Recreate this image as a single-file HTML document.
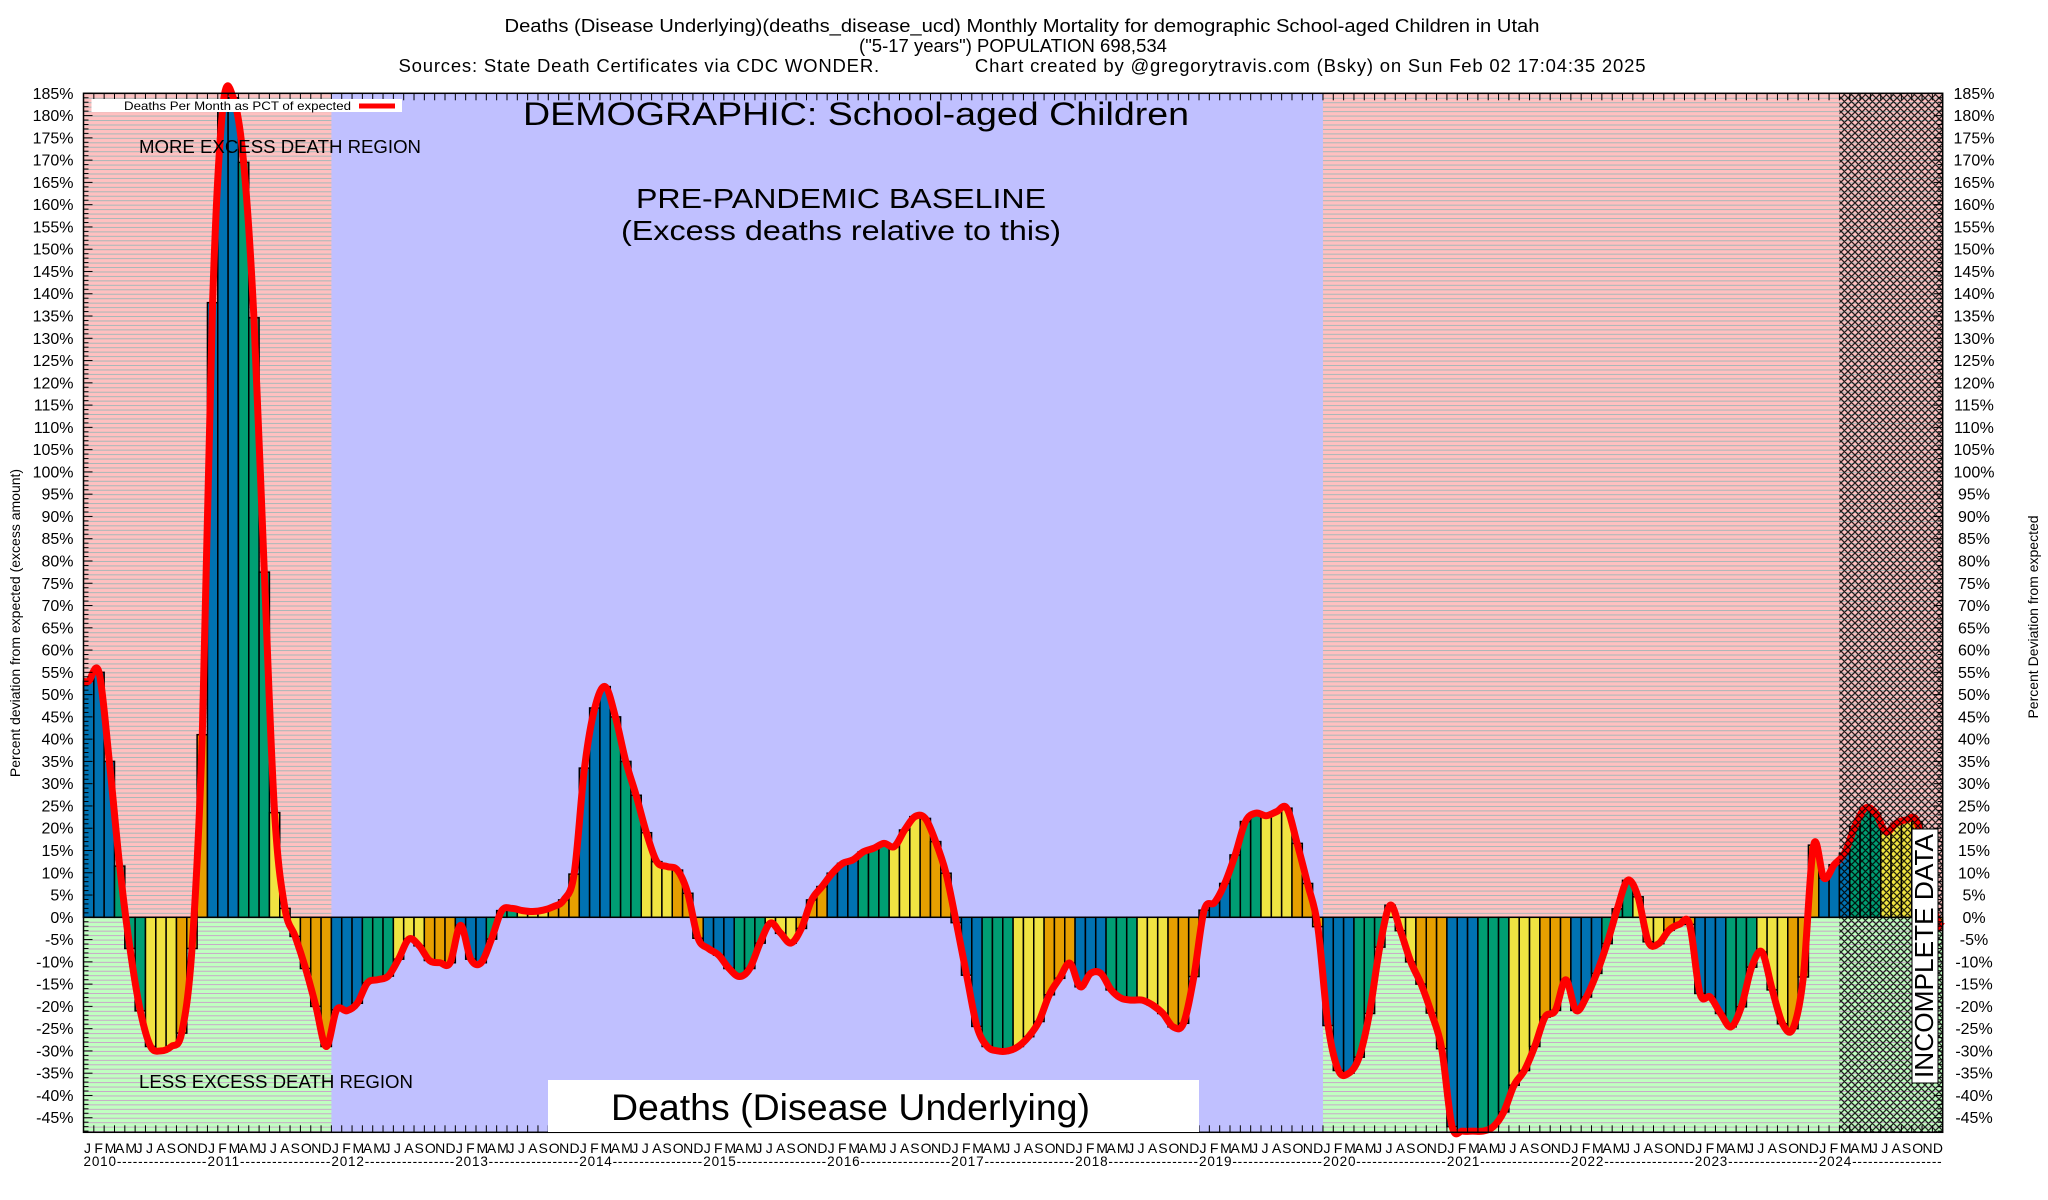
<!DOCTYPE html>
<html><head><meta charset="utf-8"><style>
html,body{margin:0;padding:0;background:#fff;width:2048px;height:1200px;overflow:hidden}
svg{display:block;font-family:"Liberation Sans",Arial,sans-serif}
</style></head><body>
<svg id="s" width="2048" height="1200" xmlns="http://www.w3.org/2000/svg">
<defs>
<pattern id="pg" patternUnits="userSpaceOnUse" x="0" y="917.3" width="10" height="4.454"><rect width="10" height="4.454" fill="#ffc0c0"/><rect y="0" width="10" height="1" fill="#a8b8b8"/></pattern>
<pattern id="gg" patternUnits="userSpaceOnUse" x="0" y="917.3" width="10" height="4.454"><rect width="10" height="4.454" fill="#c0ffc0"/><rect y="0" width="10" height="1" fill="#c8a8c8"/></pattern>
<pattern id="hatch" patternUnits="userSpaceOnUse" width="7" height="7"><path d="M0,0L7,7M7,0L0,7M-1,6L1,8M6,-1L8,1M-1,1L1,-1M6,8L8,6" stroke="#000" stroke-width="1.3"/></pattern>
</defs>
<g id="bg"></g><g id="bars"></g><g id="ln"></g><g id="hat"></g><g id="ax"></g>
<g fill="#000" text-anchor="middle">
<text x="1022" y="32" font-size="18.5" textLength="1035" lengthAdjust="spacingAndGlyphs">Deaths (Disease Underlying)(deaths_disease_ucd) Monthly Mortality for demographic School-aged Children in Utah</text>
<text x="1013" y="52" font-size="18.5">("5-17 years") POPULATION 698,534</text>
<text x="1022" y="72" font-size="18.5" textLength="1247" lengthAdjust="spacing" xml:space="preserve">Sources: State Death Certificates via CDC WONDER.                Chart created by @gregorytravis.com (Bsky) on Sun Feb 02 17:04:35 2025</text>
</g>
<rect x="91.5" y="99" width="310.5" height="13" fill="#fff"/>
<text x="124" y="110" font-size="12" textLength="227" lengthAdjust="spacingAndGlyphs">Deaths Per Month as PCT of expected</text>
<rect x="359" y="103.5" width="36" height="5" fill="#f00"/>
<text x="139" y="153" font-size="18" textLength="282" lengthAdjust="spacingAndGlyphs">MORE EXCESS DEATH REGION</text>
<text x="139" y="1088" font-size="18" textLength="274" lengthAdjust="spacingAndGlyphs">LESS EXCESS DEATH REGION</text>
<text x="523" y="125" font-size="32" textLength="666" lengthAdjust="spacingAndGlyphs">DEMOGRAPHIC: School-aged Children</text>
<text x="636" y="208" font-size="28" textLength="410" lengthAdjust="spacingAndGlyphs">PRE-PANDEMIC BASELINE</text>
<text x="621" y="240" font-size="28" textLength="440" lengthAdjust="spacingAndGlyphs">(Excess deaths relative to this)</text>
<rect x="548" y="1080" width="651" height="52" fill="#fff"/>
<text x="611" y="1120" font-size="37" textLength="479" lengthAdjust="spacingAndGlyphs">Deaths (Disease Underlying)</text>
<rect x="1912" y="829" width="26" height="254" fill="#fff" stroke="#000" stroke-width="1"/>
<text transform="translate(1933,1078) rotate(-90)" font-size="26" textLength="244" lengthAdjust="spacingAndGlyphs">INCOMPLETE DATA</text>
<text transform="translate(20,623) rotate(-90)" font-size="14" text-anchor="middle">Percent deviation from expected (excess amount)</text>
<text transform="translate(2038,617) rotate(-90)" font-size="14" text-anchor="middle">Percent Deviation from expected</text>
</svg>
<script>
const NS="http://www.w3.org/2000/svg";
function el(p,t,a,txt){const e=document.createElementNS(NS,t);for(const k in a)e.setAttribute(k,a[k]);if(txt!==undefined)e.textContent=txt;document.getElementById(p).appendChild(e);return e;}
const L=83.5,R=1942.7,T=93.3,B=1132.3,Z=917.3,K=4.454,W=(R-L)/180;
const Y=v=>Z-v*K, X=i=>L+i*W;
const d=[53,55,35,11.5,-7,-21,-29,-30,-29,-26,-7,41,
138,182,184,169.5,134.6,77.5,23.5,2,-4.3,-11.5,-20,-29,
-20.8,-21,-19.3,-14.7,-14,-13.2,-9.4,-4.9,-6.4,-9.7,-10.2,-10.2,
-1.8,-9.4,-10.2,-4.9,1.5,2,1.5,1.3,1.6,2.4,3.9,9.7,
33.5,47,51.8,45,35,27.4,19,12.5,11.4,10.6,5.4,-4.7,
-7,-8.5,-11.5,-13.3,-11.5,-5.8,-1.3,-3.6,-5.8,-2.5,3.9,6.9,
9.9,12.1,12.9,14.7,15.5,16.6,15.9,19.6,22.6,22.2,17,9.9,
-1.2,-13,-24.5,-29,-30,-30,-29,-26.8,-23.4,-17.4,-13.7,-10.3,
-15.6,-12.6,-12.6,-16.3,-18.2,-18.6,-18.6,-19.7,-21.6,-24.6,-23.8,-13.3,
1.6,3.3,7.6,14,21.5,23.4,22.8,23.7,24.5,16.6,7.6,-2.1,
-24.3,-34.4,-35,-31.4,-21.6,-6.7,2.7,-3,-10,-15,-21.5,-29.5,
-47,-48,-48,-48,-47,-43.7,-37.7,-34.4,-29,-22.4,-20.9,-14,
-20.9,-17.9,-12.6,-5.9,1.9,8.3,4.6,-5.5,-5.9,-2.9,-1.6,-1.6,
-17.1,-17.9,-21.6,-24.6,-20.1,-11.2,-7.8,-16.3,-23.9,-25,-13.4,16.2,
8.8,11.8,14.4,20.4,24.5,23.4,19.2,21.1,21.9,21.5,10,-1];
// backgrounds
el("bg","rect",{x:L,y:T,width:R-L,height:B-T,fill:"#c0c0ff"});
[[0,24],[120,180]].forEach(([a,b])=>{
 el("bg","rect",{x:X(a),y:T,width:X(b)-X(a),height:Z-T,fill:"url(#pg)"});
 el("bg","rect",{x:X(a),y:Z,width:X(b)-X(a),height:B-Z,fill:"url(#gg)"});
});
// bars
const cols=["#0072b2","#009e73","#f0e442","#e69f00"];
d.forEach((v,i)=>{const m=i%12;const y0=Math.min(Y(v),Z),h=Math.abs(Y(v)-Z);
 el("bars","rect",{x:X(i),y:y0,width:W,height:h,fill:cols[Math.floor(m/3)],stroke:"#000","stroke-width":1.5});});
el("bars","line",{x1:L,x2:R,y1:Z,y2:Z,stroke:"#000","stroke-width":1.2});
// line catmull-rom
const P=d.map((v,i)=>[X(i)+W/2,Y(v)]);P.unshift([L,Y(53)]);P.push([R,Y(-2)]);
let s="M"+P[0][0]+","+P[0][1];
for(let i=0;i<P.length-1;i++){const p0=P[Math.max(0,i-1)],p1=P[i],p2=P[i+1],p3=P[Math.min(P.length-1,i+2)];
 const c1=[p1[0]+(p2[0]-p0[0])/6,p1[1]+(p2[1]-p0[1])/6],c2=[p2[0]-(p3[0]-p1[0])/6,p2[1]-(p3[1]-p1[1])/6];
 s+=`C${c1[0].toFixed(1)},${c1[1].toFixed(1)} ${c2[0].toFixed(1)},${c2[1].toFixed(1)} ${p2[0].toFixed(1)},${p2[1].toFixed(1)}`;}
el("ln","path",{d:s,fill:"none",stroke:"#f00","stroke-width":7,"stroke-linejoin":"round"});
// hatch
el("hat","rect",{x:X(170),y:T,width:R-X(170),height:B-T,fill:"url(#hatch)",opacity:0.85});
// axes
el("ax","rect",{x:L,y:T,width:R-L,height:B-T,fill:"none",stroke:"#000","stroke-width":1.5});
for(let v=-48;v<=185;v++){const y=Y(v),len=(v%5==0)?9:5;
 el("ax","line",{x1:L,x2:L+len,y1:y,y2:y,stroke:"#000","stroke-width":1});
 el("ax","line",{x1:R,x2:R-len,y1:y,y2:y,stroke:"#000","stroke-width":1});
 if(v%5==0&&v>=-45){
  el("ax","text",{x:73.5,y:y+5.5,"font-size":16,"text-anchor":"end"},v+"%");
  el("ax","text",{x:1974,y:y+5.5,"font-size":16,"text-anchor":"middle"},v+"%");}}
const ml="JFMAMJJASOND";
for(let i=0;i<180;i++){const x=X(i);
 el("ax","line",{x1:x,x2:x,y1:B,y2:B-7,stroke:"#000","stroke-width":1});
 el("ax","line",{x1:x,x2:x,y1:T,y2:T+7,stroke:"#000","stroke-width":1});
 el("ax","text",{x:x+0.5,y:1153,"font-size":14},ml[i%12]);}
for(let yr=0;yr<15;yr++){
 el("ax","text",{x:X(yr*12),y:1166,"font-size":13.5,textLength:(12*W-1).toFixed(1),lengthAdjust:"spacing"},(2010+yr)+"-----------------");}
</script>
</body></html>
